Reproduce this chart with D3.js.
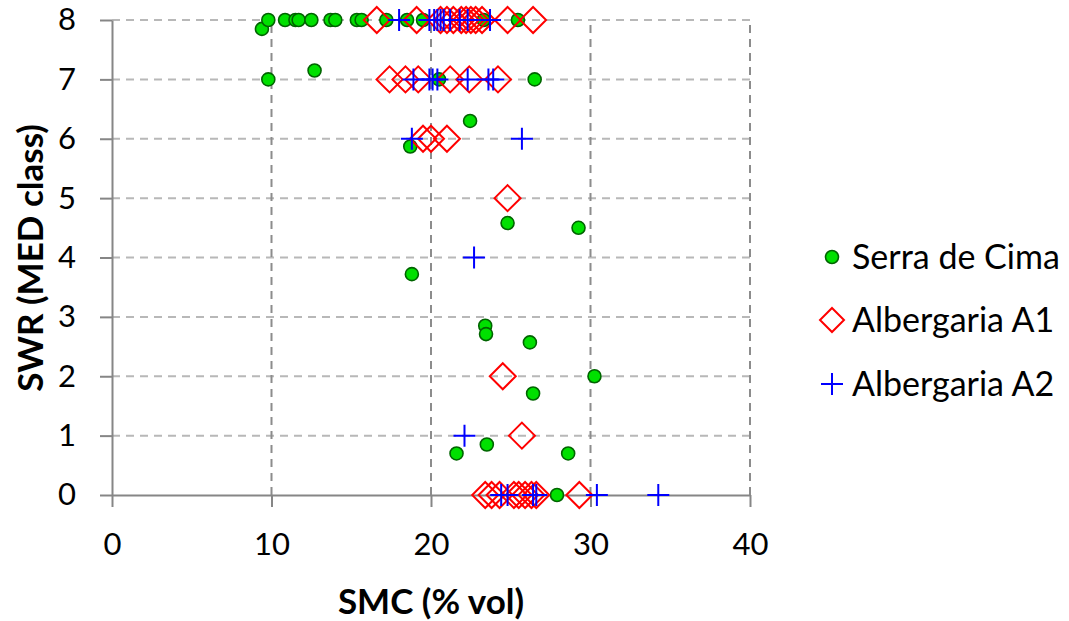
<!DOCTYPE html>
<html><head><meta charset="utf-8">
<script src="https://cdn.jsdelivr.net/npm/d3@7"></script>
<style>body{margin:0;background:#fff}svg{display:block}text{font-family:Lato,"Open Sans",sans-serif}</style>
</head><body><svg id="c" width="1069" height="621"></svg>
<script>
const xTicks=[0,10,20,30,40];
const yTicks=[0,1,2,3,4,5,6,7,8];
const seriesNames=["Serra de Cima","Albergaria A1","Albergaria A2"];
const serraSMC=[9.4,9.8,10.85,11.5,11.7,12.5,13.7,14.0,15.35,15.65,17.2,18.5,19.5,23.3,25.45,
  9.8,12.7,20.5,26.5,22.45,18.7,24.8,29.25,18.8,23.4,23.45,26.2,30.25,26.4,23.5,21.6,28.6,27.9];
const serraSWR=[7.85,8,8,8,8,8,8,8,8,8,8,8,8,8,8,
  7,7.15,7,7,6.3,5.87,4.58,4.5,3.72,2.85,2.71,2.57,2,1.71,0.85,0.7,0.7,0];
const a1SMC=[16.6,19.1,20.6,21.0,21.4,21.9,22.2,22.5,22.8,23.2,24.8,26.4,
  17.4,18.4,19.2,21.2,22.4,24.2,19.5,20.0,21.0,24.8,24.5,25.7,
  23.4,23.8,24.3,25.2,25.5,25.9,26.3,26.6,29.3];
const a1SWR=[8,8,8,8,8,8,8,8,8,8,8,8,7,7,7,7,7,7,6,6,6,5,2,1,0,0,0,0,0,0,0,0,0];
const a2SMC=[18.0,19.9,20.2,20.4,20.6,20.8,21.2,21.8,22.3,23.7,
  18.9,19.9,20.1,20.4,22.3,23.6,23.9,18.8,25.7,22.7,22.1,
  24.4,24.8,26.4,26.6,30.4,34.25];
const a2SWR=[8,8,8,8,8,8,8,8,8,8,7,7,7,7,7,7,7,6,6,4,1,0,0,0,0,0,0];

const svg=d3.select("#c");
const x=d3.scaleLinear().domain([0,40]).range([112,750]);
const y=d3.scaleLinear().domain([0,8]).range([495,20]);

svg.append("g").selectAll("line").data(yTicks.filter(d=>d>0)).join("line")
  .attr("x1",x(0)).attr("x2",x(40)).attr("y1",d=>y(d)).attr("y2",d=>y(d))
  .attr("stroke","#b8b8b8").attr("stroke-width",2).attr("stroke-dasharray","8,6");
svg.append("g").selectAll("line").data(xTicks.filter(d=>d>0)).join("line")
  .attr("x1",d=>x(d)).attr("x2",d=>x(d)).attr("y1",y(0)).attr("y2",y(8))
  .attr("stroke","#8c8c8c").attr("stroke-width",2).attr("stroke-dasharray","8,6");

const ax=svg.append("g").attr("transform",`translate(0,${y(0)})`)
  .call(d3.axisBottom(x).tickValues(xTicks).tickSize(12).tickPadding(26).tickSizeOuter(0));
const ay=svg.append("g").attr("transform",`translate(${x(0)},0)`)
  .call(d3.axisLeft(y).tickValues(yTicks).tickSize(12).tickPadding(24).tickSizeOuter(0));
[ax,ay].forEach(g=>{
  g.select(".domain").attr("stroke","#868686").attr("stroke-width",2);
  g.selectAll(".tick line").attr("stroke","#868686").attr("stroke-width",2);
  g.selectAll(".tick text").attr("font-family","Lato, sans-serif").attr("font-size",31).attr("fill","#000");
});

svg.append("text").attr("x",431).attr("y",614).attr("text-anchor","middle")
  .attr("font-size",35).attr("font-weight","bold").text("SMC (% vol)");
svg.append("text").attr("transform","translate(43,258) rotate(-90)").attr("text-anchor","middle")
  .attr("font-size",35).attr("font-weight","bold").text("SWR (MED class)");

const diamond=s=>`M0,${-s}L${s},0L0,${s}L${-s},0Z`;
const plus=s=>`M${-s},0H${s}M0,${-s}V${s}`;

function drawCircle(g,cx,cy){g.append("circle").attr("cx",cx).attr("cy",cy).attr("r",6.5)
  .attr("fill","#00e000").attr("stroke","#006400").attr("stroke-width",1.6);}
function drawDiamond(g,cx,cy,s){g.append("path").attr("d",diamond(s||13)).attr("transform",`translate(${cx},${cy})`)
  .attr("fill","none").attr("stroke","#ff0000").attr("stroke-width",2);}
function drawPlus(g,cx,cy){g.append("path").attr("d",plus(11)).attr("transform",`translate(${cx},${cy})`)
  .attr("fill","none").attr("stroke","#0000ff").attr("stroke-width",2);}

const g1=svg.append("g");
serraSMC.forEach((v,i)=>drawCircle(g1,x(v),y(serraSWR[i])));
const g2=svg.append("g");
a1SMC.forEach((v,i)=>drawDiamond(g2,x(v),y(a1SWR[i])));
const g3=svg.append("g");
a2SMC.forEach((v,i)=>drawPlus(g3,x(v),y(a2SWR[i])));

const leg=svg.append("g");
const ly=[257,320,384];
drawCircle(leg,832,ly[0]);drawDiamond(leg,832,ly[1],12);drawPlus(leg,832,ly[2]);
seriesNames.forEach((n,i)=>leg.append("text").attr("x",852).attr("y",ly[i]).attr("dy","0.36em")
  .attr("font-size",34).attr("fill","#000").text(n));
</script></body></html>
